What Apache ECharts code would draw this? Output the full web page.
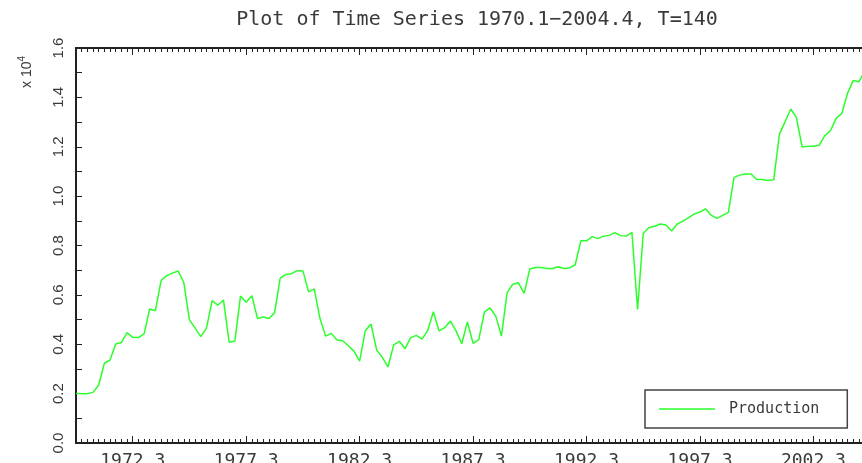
<!DOCTYPE html>
<html><head><meta charset="utf-8">
<script src="https://cdn.jsdelivr.net/npm/echarts@6/dist/echarts.min.js"></script>
<style>html,body{margin:0;padding:0;background:#fff}#c{width:862px;height:463px}</style>
</head><body><div id="c"></div>
<script>
const titleText = 'Plot of Time Series 1970.1\u22122004.4, T=140';
const seriesName = 'Production';
const startYear = 1970;
const nQuarters = 140;
// quarterly values (raw units; axis shows x 10^4)
const production = [
  2010, 2000, 2000, 2050, 2350, 3230, 3360, 4010, 4070, 4470,
  4280, 4270, 4420, 5430, 5360, 6580, 6780, 6880, 6970, 6500,
  4990, 4650, 4310, 4650, 5770, 5580, 5790, 4080, 4130, 5950,
  5700, 5970, 5040, 5100, 5040, 5270, 6680, 6830, 6860, 6980,
  6970, 6120, 6240, 5050, 4330, 4440, 4170, 4140, 3940, 3720,
  3320, 4550, 4820, 3770, 3470, 3080, 3970, 4120, 3820, 4270,
  4360, 4210, 4560, 5320, 4540, 4670, 4940, 4540, 4020, 4900,
  4040, 4190, 5310, 5470, 5140, 4330, 6090, 6430, 6490, 6060,
  7050, 7110, 7110, 7070, 7070, 7140, 7070, 7090, 7220, 8190,
  8190, 8360, 8280, 8380, 8410, 8520, 8400, 8380, 8530, 5410,
  8490, 8730, 8780, 8870, 8830, 8590, 8870, 8990, 9130, 9280,
  9360, 9480, 9220, 9100, 9220, 9340, 10760, 10850, 10900, 10900,
  10670, 10670, 10630, 10660, 12510, 13010, 13530, 13180, 11990, 12020,
  12020, 12060, 12450, 12650, 13150, 13350, 14160, 14680, 14630, 15050
];
const yMin = 0, yMax = 16000, yInterval = 2000;
const yScaleLabel = 'x 10';
const yScaleExp = '4';
const firstMajor = 10, majorStep = 20;

const categories = [];
for (let i = 0; i < nQuarters; i++) categories.push((startYear + Math.floor(i / 4)) + '.' + (i % 4 + 1));
const isMajor = i => i >= firstMajor && (i - firstMajor) % majorStep === 0;

const axisColor = '#222';
const textColor = '#3a3a3a';
const lineColor = '#2bff2b';
const mono = "'DejaVu Sans Mono', monospace";

function xAxisDef(position, major, labels) {
  return {
    type: 'category', data: categories, boundaryGap: false, position: position,
    axisLine: { show: true, lineStyle: { color: axisColor, width: 2 } },
    axisTick: { show: true, inside: true, length: major ? 7 : 4, interval: major ? isMajor : 0,
      lineStyle: { color: axisColor, width: 1 } },
    axisLabel: { show: labels, interval: isMajor, margin: 9, color: textColor,
      fontFamily: mono, fontSize: 18 },
    splitLine: { show: false }
  };
}

const chart = echarts.init(document.getElementById('c'), null, { renderer: 'canvas' });
chart.setOption({
  backgroundColor: '#fff',
  animation: false,
  title: {
    text: titleText, left: 472, top: 5, textAlign: 'center',
    textStyle: { fontFamily: mono, fontSize: 20, fontWeight: 'normal', color: textColor }
  },
  grid: { left: 76, top: 48, width: 788.5, height: 395, containLabel: false, outerBoundsMode: 'none' },
  xAxis: [
    xAxisDef('bottom', false, false),
    xAxisDef('bottom', true, true),
    xAxisDef('top', false, false),
    xAxisDef('top', true, false)
  ],
  yAxis: {
    type: 'value', min: yMin, max: yMax, interval: yInterval,
    axisLine: { show: true, lineStyle: { color: axisColor, width: 2 } },
    axisTick: { show: true, inside: true, length: 6, lineStyle: { color: axisColor, width: 1 } },
    minorTick: { show: true, splitNumber: 2, length: 6, lineStyle: { color: axisColor, width: 1 } },
    axisLabel: { rotate: 90, margin: 10, color: textColor, fontFamily: "'Liberation Sans', Arial, sans-serif",
      fontSize: 15, formatter: v => (v / 10000).toFixed(1) },
    splitLine: { show: false }
  },
  legend: {
    left: 645, top: 390, orient: 'horizontal',
    borderColor: '#444', borderWidth: 1.5, borderRadius: 0,
    padding: [11, 28, 11, 14],
    itemWidth: 56, itemHeight: 1.5,
    itemStyle: { color: lineColor },
    textStyle: { fontFamily: mono, fontSize: 15, color: textColor, padding: [0, 0, 0, 9], lineHeight: 16 },
    data: [{ name: seriesName, icon: 'rect' }]
  },
  graphic: [{
    type: 'text', x: 27, y: 72, rotation: Math.PI / 2,
    style: {
      text: yScaleLabel + '{sup|' + yScaleExp + '}',
      fill: textColor, font: "14px 'Liberation Sans', Arial, sans-serif",
      align: 'center', verticalAlign: 'middle',
      rich: { sup: { fontSize: 10, fill: textColor, padding: [0, 0, 9, 0], fontFamily: "'Liberation Sans', Arial, sans-serif" } }
    }
  }],
  series: [{
    name: seriesName, type: 'line', data: production, xAxisIndex: 0, yAxisIndex: 0,
    symbol: 'none', smooth: false,
    lineStyle: { color: lineColor, width: 1.5 },
    itemStyle: { color: lineColor }
  }]
});
</script></body></html>
